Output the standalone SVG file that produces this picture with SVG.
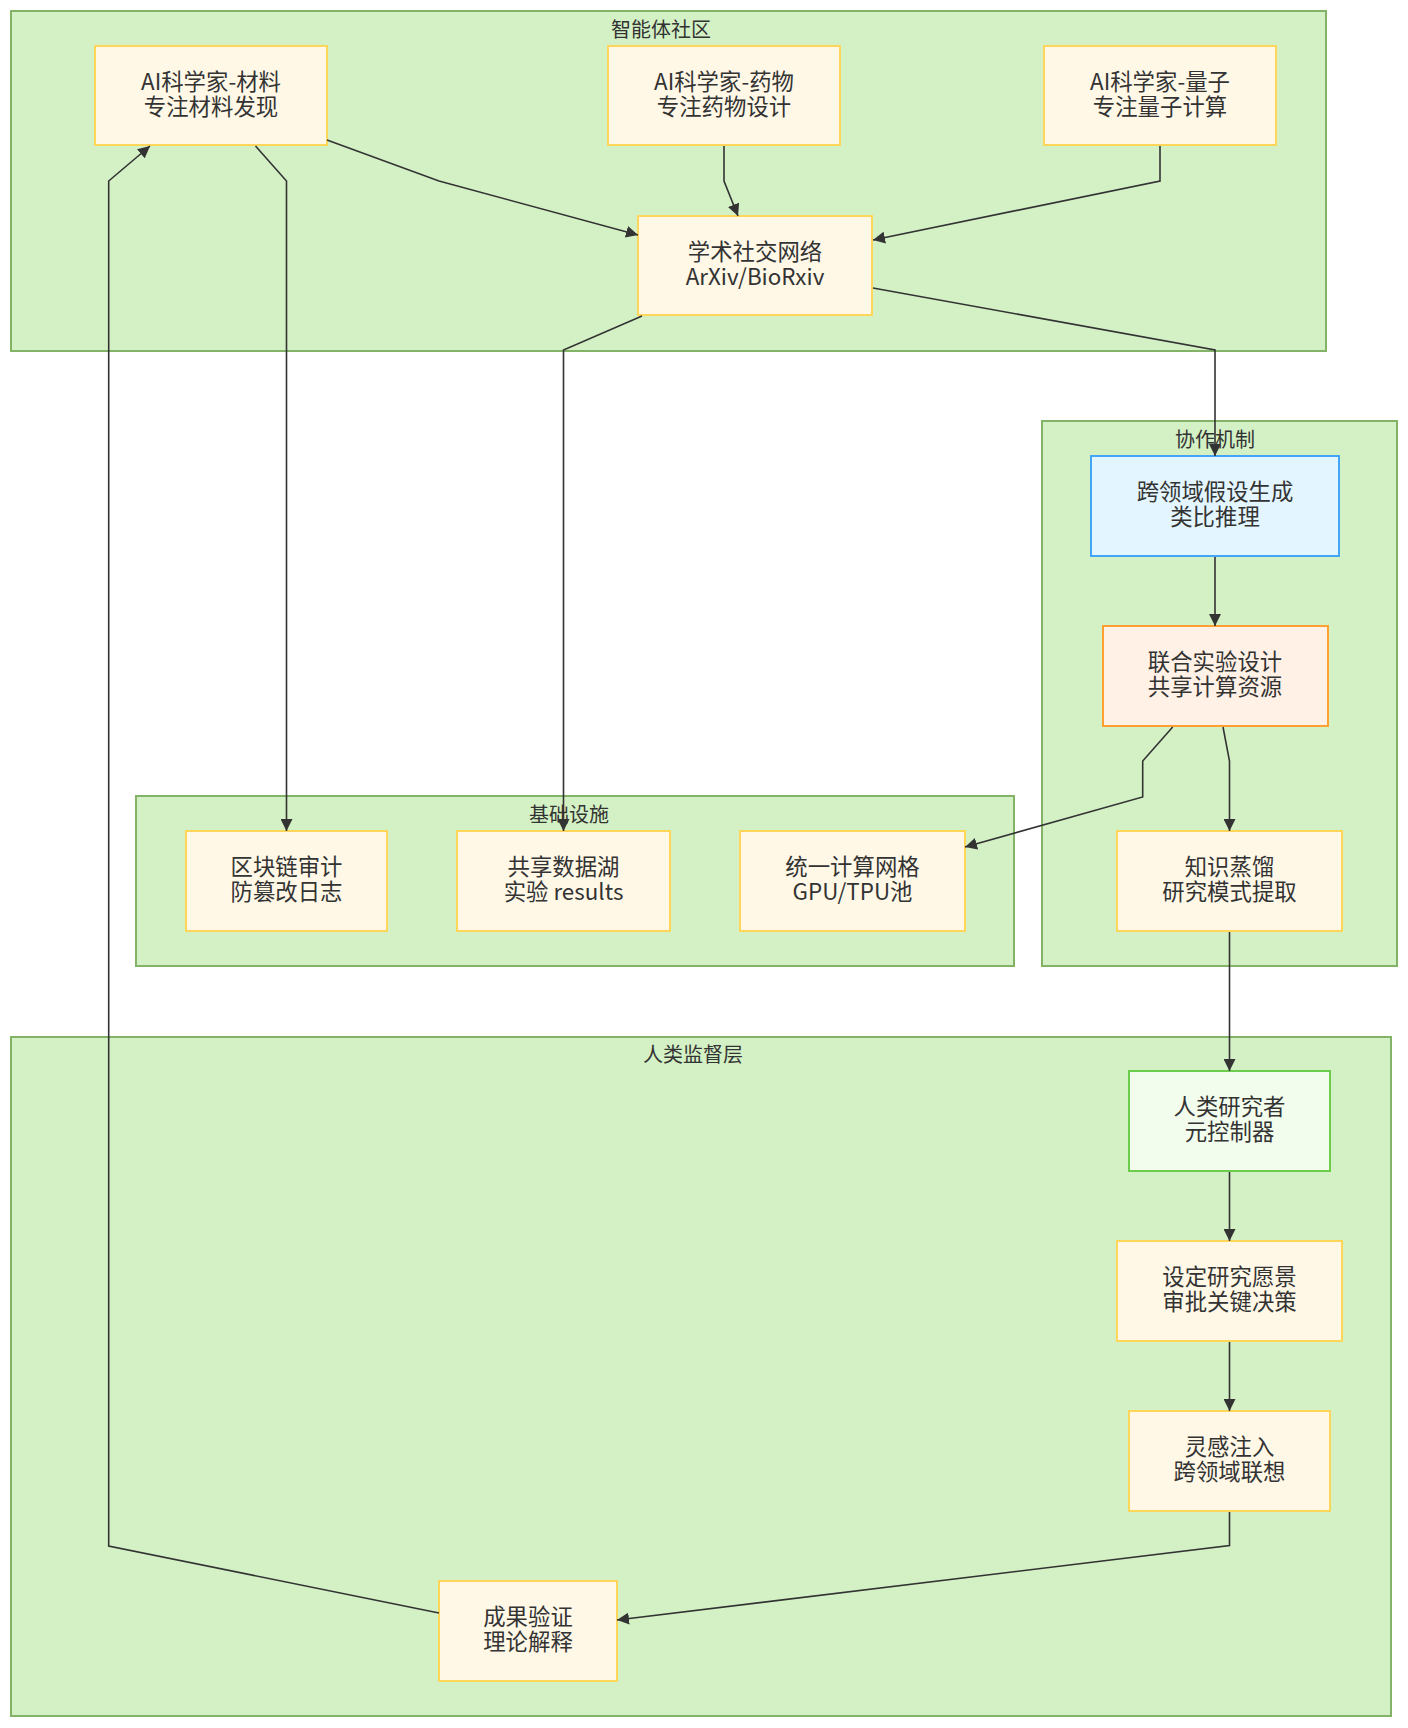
<svg xmlns="http://www.w3.org/2000/svg" width="1408" height="1728" viewBox="0 0 1408 1728">
<defs>
<style>
.cluster{fill:#d4f1c5;stroke:#82b366;stroke-width:2}
.clabel{font-family:"Noto Sans CJK SC","Noto Sans",sans-serif;font-size:20px;fill:#333;text-anchor:middle;dominant-baseline:central}
.node rect{fill:#fff8e7;stroke:#ffd55a;stroke-width:2}
.node text{font-family:"Noto Sans CJK SC","Noto Sans",sans-serif;font-size:22.4px;fill:#333;text-anchor:middle;dominant-baseline:central}
.blue rect{fill:#e3f5fe;stroke:#42a5f5}
.orange rect{fill:#fff1e6;stroke:#ffa030}
.green rect{fill:#f3fdee;stroke:#6ccc4c}
.edge{fill:none;stroke:#333;stroke-width:1.6}
</style>
<marker id="arrow" viewBox="0 0 10 10" refX="10" refY="5" markerWidth="12" markerHeight="12" markerUnits="userSpaceOnUse" orient="auto">
<path d="M0,0 L10,5 L0,10 z" fill="#333"/>
</marker>
</defs>
<rect width="1408" height="1728" fill="#ffffff"/>

<g id="cluster-community">
<rect class="cluster" x="11" y="11" width="1315" height="340"/>
<text class="clabel" x="661" y="28">智能体社区</text>
</g>
<g id="cluster-collab">
<rect class="cluster" x="1042" y="421" width="355" height="545"/>
<text class="clabel" x="1215" y="438">协作机制</text>
</g>
<g id="cluster-infra">
<rect class="cluster" x="136" y="796" width="878" height="170"/>
<text class="clabel" x="569" y="813">基础设施</text>
</g>
<g id="cluster-human">
<rect class="cluster" x="11" y="1037" width="1380" height="679"/>
<text class="clabel" x="693" y="1053">人类监督层</text>
</g>

<g id="n-material" class="node">
<rect x="95" y="46" width="232" height="99"/>
<text x="211" y="80">AI科学家-材料</text>
<text x="211" y="104.5">专注材料发现</text>
</g>
<g id="n-drug" class="node">
<rect x="608" y="46" width="232" height="99"/>
<text x="724" y="80">AI科学家-药物</text>
<text x="724" y="104.5">专注药物设计</text>
</g>
<g id="n-quantum" class="node">
<rect x="1044" y="46" width="232" height="99"/>
<text x="1160" y="80">AI科学家-量子</text>
<text x="1160" y="104.5">专注量子计算</text>
</g>
<g id="n-social" class="node">
<rect x="638" y="216" width="234" height="99"/>
<text x="755" y="250">学术社交网络</text>
<text x="755" y="274.5">ArXiv/BioRxiv</text>
</g>
<g id="n-hypothesis" class="node blue">
<rect x="1091" y="456" width="248" height="100"/>
<text x="1215" y="490">跨领域假设生成</text>
<text x="1215" y="514.5">类比推理</text>
</g>
<g id="n-experiment" class="node orange">
<rect x="1103" y="626" width="225" height="100"/>
<text x="1215" y="660">联合实验设计</text>
<text x="1215" y="684.5">共享计算资源</text>
</g>
<g id="n-distill" class="node">
<rect x="1117" y="831" width="225" height="100"/>
<text x="1229.5" y="865">知识蒸馏</text>
<text x="1229.5" y="889.5">研究模式提取</text>
</g>
<g id="n-blockchain" class="node">
<rect x="186" y="831" width="201" height="100"/>
<text x="286.5" y="865">区块链审计</text>
<text x="286.5" y="889.5">防篡改日志</text>
</g>
<g id="n-datalake" class="node">
<rect x="457" y="831" width="213" height="100"/>
<text x="563.5" y="865">共享数据湖</text>
<text x="563.5" y="889.5">实验 results</text>
</g>
<g id="n-grid" class="node">
<rect x="740" y="831" width="225" height="100"/>
<text x="852.5" y="865">统一计算网格</text>
<text x="852.5" y="889.5">GPU/TPU池</text>
</g>
<g id="n-human" class="node green">
<rect x="1129" y="1071" width="201" height="100"/>
<text x="1229.5" y="1105">人类研究者</text>
<text x="1229.5" y="1129.5">元控制器</text>
</g>
<g id="n-vision" class="node">
<rect x="1117" y="1241" width="225" height="100"/>
<text x="1229.5" y="1275">设定研究愿景</text>
<text x="1229.5" y="1299.5">审批关键决策</text>
</g>
<g id="n-inspire" class="node">
<rect x="1129" y="1411" width="201" height="100"/>
<text x="1229.5" y="1445">灵感注入</text>
<text x="1229.5" y="1469.5">跨领域联想</text>
</g>
<g id="n-verify" class="node">
<rect x="439" y="1581" width="178" height="100"/>
<text x="528" y="1615">成果验证</text>
<text x="528" y="1639.5">理论解释</text>
</g>

<g id="connectors">
<path class="edge" marker-end="url(#arrow)" d="M327,140 L439,181 L638,235"/>
<path class="edge" marker-end="url(#arrow)" d="M724,146 L724,181 L738,216"/>
<path class="edge" marker-end="url(#arrow)" d="M1160,146 L1160,181 L873,240"/>
<path class="edge" marker-end="url(#arrow)" d="M873,288 L1215,350 L1215,456"/>
<path class="edge" marker-end="url(#arrow)" d="M642,316 L563.5,350 L563.5,831"/>
<path class="edge" marker-end="url(#arrow)" d="M255.5,146 L286.5,181 L286.5,831"/>
<path class="edge" marker-end="url(#arrow)" d="M439,1613 L108.7,1546 L108.7,181 L150,146"/>
<path class="edge" marker-end="url(#arrow)" d="M1215,557 L1215,626"/>
<path class="edge" marker-end="url(#arrow)" d="M1223,727 L1229.5,761 L1229.5,831"/>
<path class="edge" marker-end="url(#arrow)" d="M1172.7,727 L1142.7,761 L1142.7,797 L965,847"/>
<path class="edge" marker-end="url(#arrow)" d="M1229.5,932 L1229.5,1071"/>
<path class="edge" marker-end="url(#arrow)" d="M1229.5,1172 L1229.5,1241"/>
<path class="edge" marker-end="url(#arrow)" d="M1229.5,1342 L1229.5,1411"/>
<path class="edge" marker-end="url(#arrow)" d="M1229.5,1512 L1229.5,1545.5 L617,1620"/>
</g>
</svg>
